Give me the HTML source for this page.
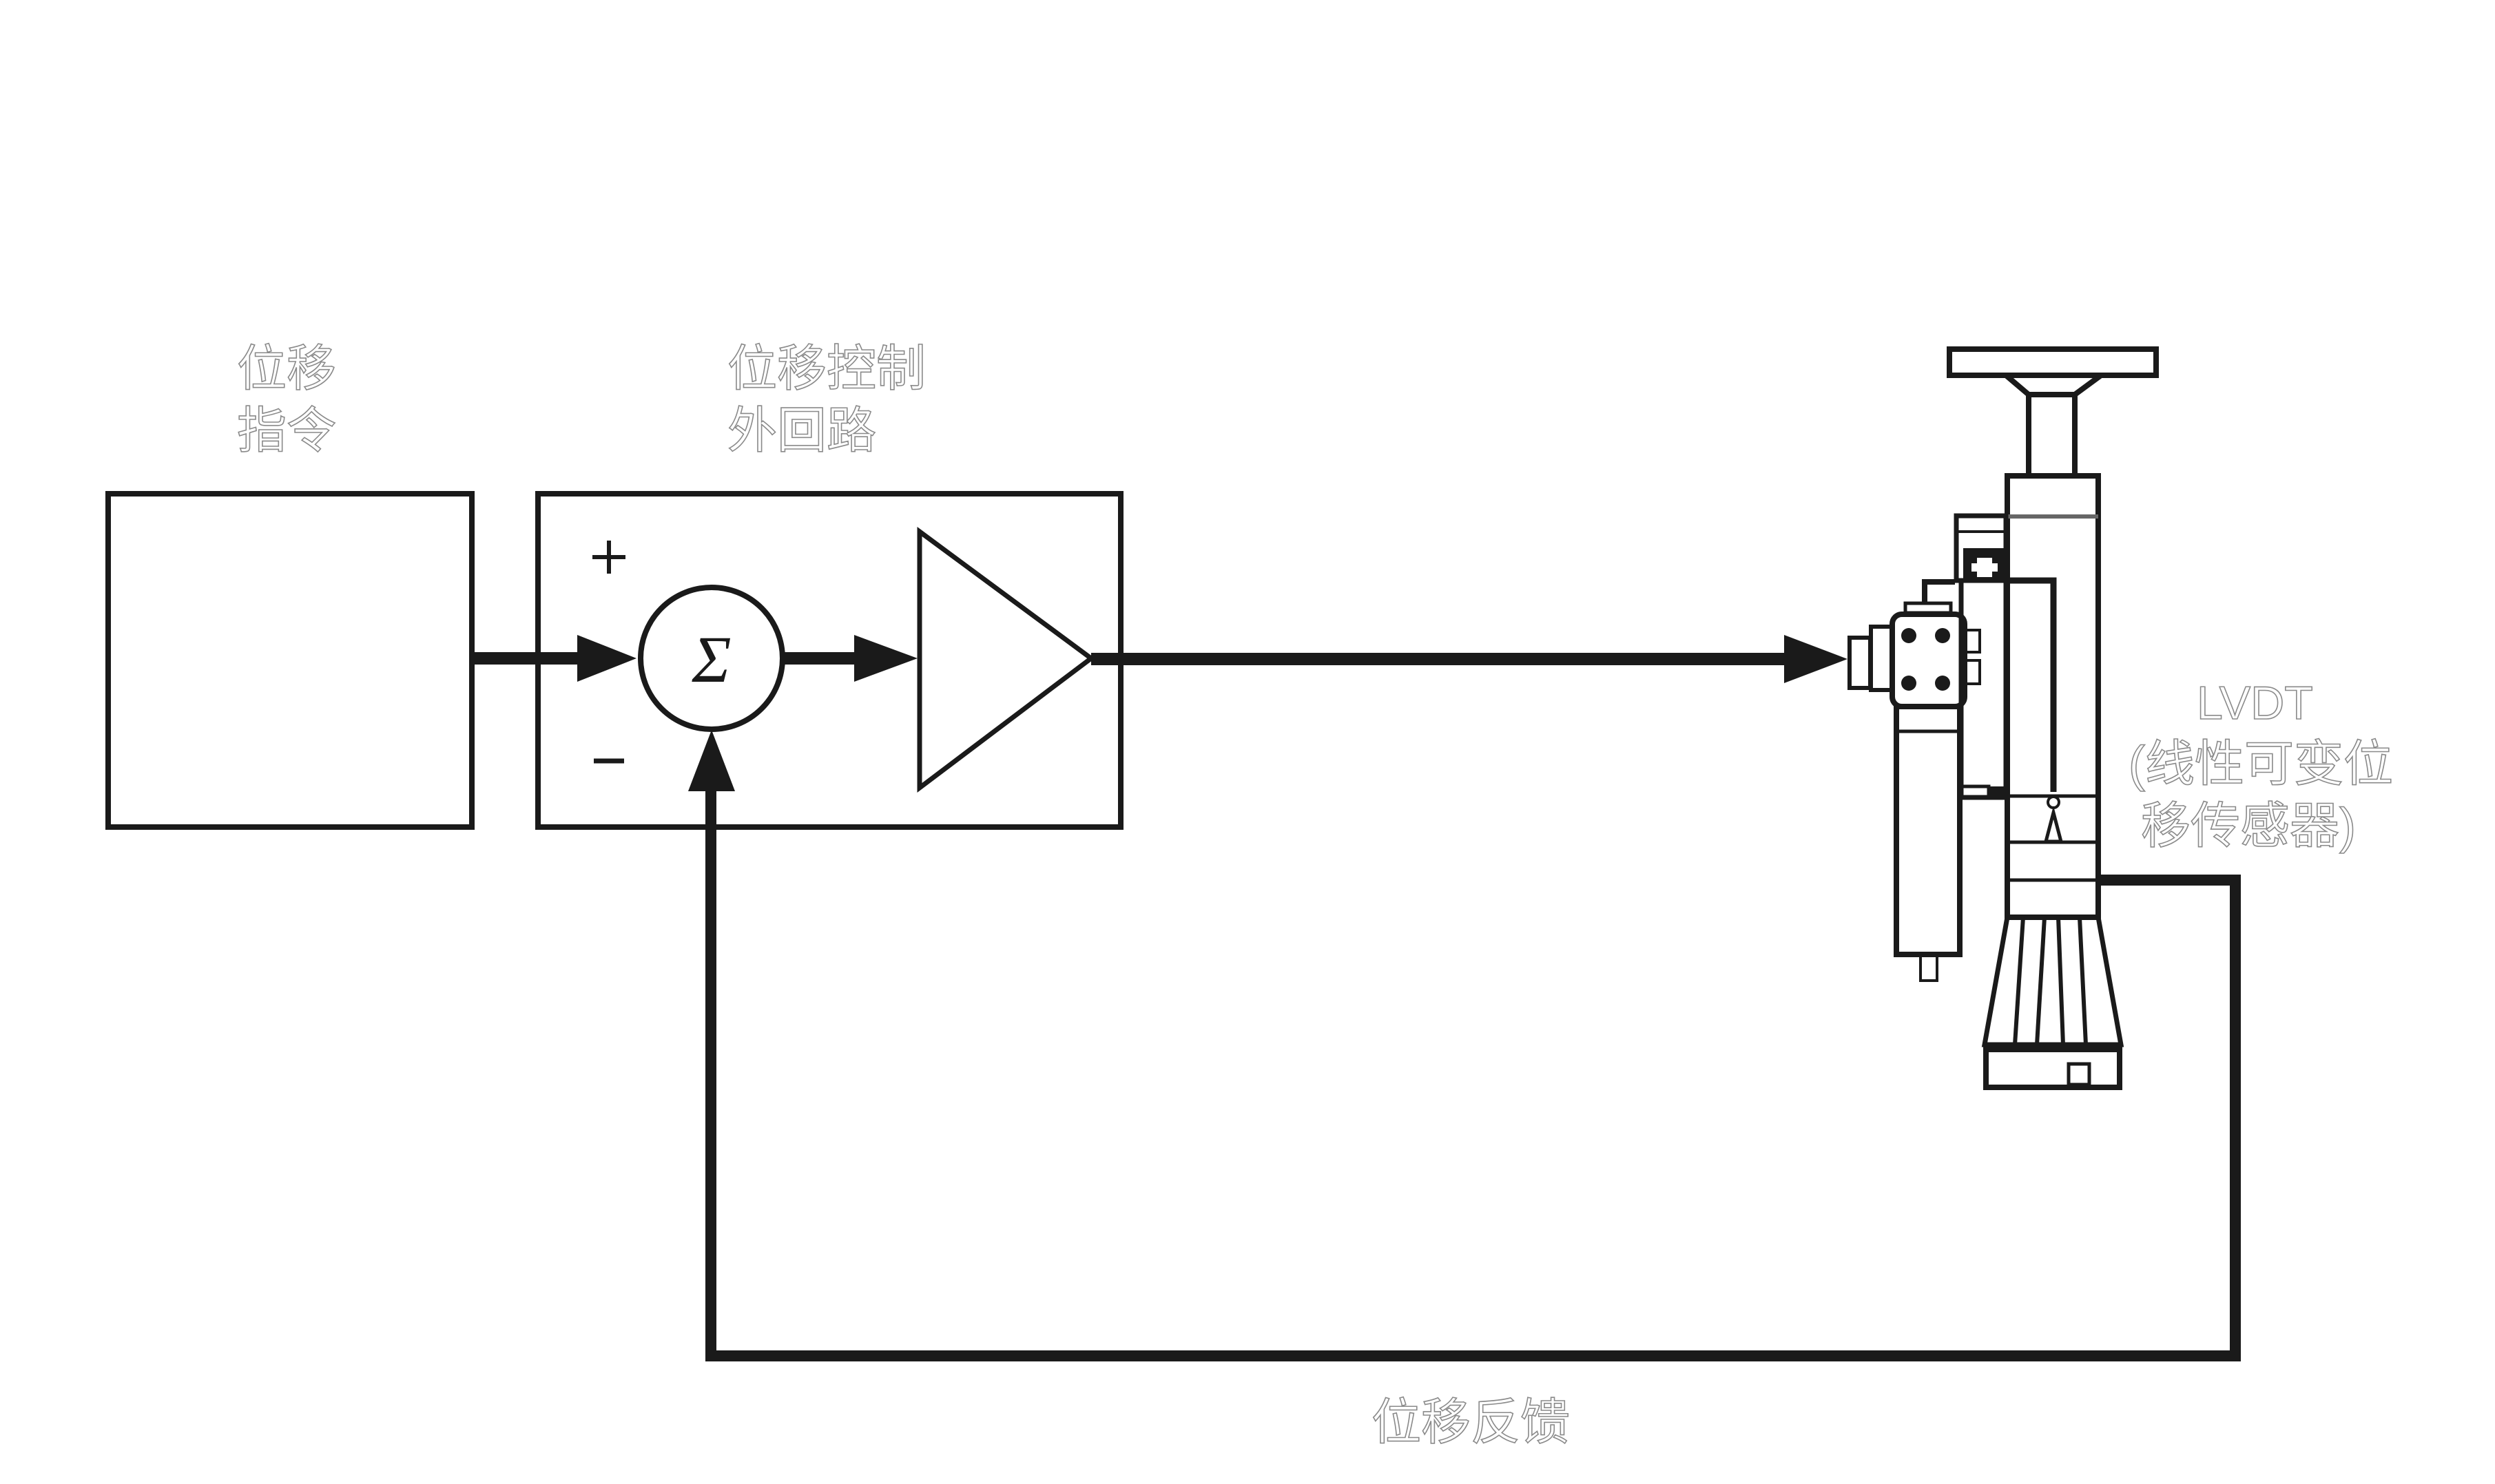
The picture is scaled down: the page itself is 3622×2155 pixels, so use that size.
<!DOCTYPE html>
<html><head><meta charset="utf-8"><style>
html,body{margin:0;padding:0;background:#fff;}
svg{display:block;}
.t{font-family:"Liberation Sans","Noto Sans CJK SC",sans-serif;fill:#fff;stroke:#8a8a8a;stroke-width:1.6;font-size:72px;}
</style></head><body>
<svg width="3622" height="2155" viewBox="0 0 3622 2155" xmlns="http://www.w3.org/2000/svg">
<rect width="3622" height="2155" fill="#fff"/>
<!-- labels -->
<text class="t" x="344" y="560">位移</text>
<text class="t" x="344" y="650">指令</text>
<text class="t" x="1056" y="560">位移控制</text>
<text class="t" x="1056" y="650">外回路</text>
<text class="t" x="3189" y="1044" style="font-size:68px">LVDT</text>
<text class="t" x="3090" y="1134" style="font-size:72px">(线性可变位</text>
<text class="t" x="3108" y="1224" style="font-size:72px">移传感器)</text>
<text class="t" x="1991" y="2090">位移反馈</text>

<g fill="none" stroke="#1a1a1a">
<!-- box1 -->
<rect x="157" y="717" width="528" height="484" stroke-width="8"/>
<!-- box2 -->
<rect x="781" y="717" width="846" height="484" stroke-width="8"/>
<!-- sum circle -->
<circle cx="1033" cy="956" r="103" stroke-width="8"/>
<!-- triangle -->
<polygon points="1335,772 1584,956 1335,1144" stroke-width="7"/>
<!-- lines -->
<line x1="685" y1="956" x2="850" y2="956" stroke-width="18"/>
<line x1="1137" y1="956" x2="1245" y2="956" stroke-width="18"/>
<line x1="1584" y1="957" x2="2600" y2="957" stroke-width="18"/>
<!-- feedback -->
<polyline points="3046,1278 3245,1278 3245,1969 1032,1969 1032,1140" stroke-width="16" stroke-linejoin="miter"/>
<!-- plus minus -->
<line x1="884" y1="785" x2="884" y2="833" stroke-width="6"/>
<line x1="860" y1="809" x2="908" y2="809" stroke-width="6"/>
<line x1="862" y1="1105" x2="906" y2="1105" stroke-width="7"/>
</g>
<g fill="#1a1a1a">
<polygon points="838,922 924,956 838,990"/>
<polygon points="1240,922 1332,956 1240,990"/>
<polygon points="2590,922 2682,957 2590,992"/>
<polygon points="999,1149 1033,1060 1067,1149"/>
</g>
<text x="1033" y="990" text-anchor="middle" style="font-family:'Liberation Serif',serif;font-size:96px;font-style:italic" fill="#1a1a1a">Σ</text>

<!-- actuator -->
<g fill="none" stroke="#1a1a1a" stroke-width="8">
<rect x="2830" y="507" width="300" height="38"/>
<polyline points="2912,545 2945,573 3012,573 3050,545"/>
<rect x="2945" y="573" width="67" height="118"/>
<rect x="2914" y="691" width="132" height="641"/>
<line x1="2914" y1="750" x2="3046" y2="750" stroke="#666" stroke-width="6"/>
<line x1="2914" y1="1156" x2="3046" y2="1156" stroke-width="5"/>
<line x1="2914" y1="1223" x2="3046" y2="1223" stroke-width="5"/>
<line x1="2914" y1="1278" x2="3046" y2="1278" stroke-width="5"/>
<rect x="2840" y="749" width="72" height="94" stroke-width="7"/>
<line x1="2840" y1="772" x2="2912" y2="772" stroke-width="4"/>
<polyline points="2914,843 2981,843 2981,1150" stroke-width="9"/>
<circle cx="2981" cy="1165" r="8" stroke-width="4"/>
<polygon points="2981,1180 2970,1222 2992,1222" stroke-width="5"/>
<rect x="2847" y="843" width="65" height="315" stroke-width="7"/>
<rect x="2847" y="1142" width="40" height="16" stroke-width="5"/>
<polyline points="2794,876 2794,845 2838,845" stroke-width="8"/>
<rect x="2766" y="876" width="66" height="14" stroke-width="5"/>
<rect x="2747" y="892" width="105" height="134" rx="14" stroke-width="8"/>
<rect x="2716" y="910" width="30" height="92" stroke-width="6"/>
<rect x="2685" y="926" width="30" height="73" stroke-width="6"/>
<rect x="2854" y="915" width="20" height="32" stroke-width="4"/>
<rect x="2854" y="959" width="20" height="34" stroke-width="4"/>
<rect x="2753" y="1026" width="92" height="360" stroke-width="8"/>
<line x1="2753" y1="1062" x2="2845" y2="1062" stroke-width="5"/>
<rect x="2788" y="1388" width="24" height="36" stroke-width="4"/>
<polygon points="2914,1332 3046,1332 3079,1517 2881,1517" stroke-width="7"/>
<line x1="2937" y1="1332" x2="2925" y2="1517" stroke-width="6"/>
<line x1="2968" y1="1332" x2="2957" y2="1517" stroke-width="6"/>
<line x1="2988" y1="1332" x2="2995" y2="1517" stroke-width="6"/>
<line x1="3019" y1="1332" x2="3028" y2="1517" stroke-width="6"/>
<rect x="2883" y="1521" width="194" height="58" stroke-width="8"/>
<line x1="2883" y1="1522" x2="3077" y2="1522" stroke-width="12"/>
<rect x="3003" y="1545" width="30" height="30" stroke-width="5"/>
</g>
<g fill="#1a1a1a">
<rect x="2850" y="796" width="62" height="47"/>
<path d="M2870,810h22v8h8v12h-8v8h-22v-8h-8v-12h8z" fill="#fff"/>
<circle cx="2771" cy="923" r="11"/><circle cx="2820" cy="923" r="11"/>
<circle cx="2771" cy="992" r="11"/><circle cx="2820" cy="992" r="11"/>
<rect x="2887" y="1142" width="25" height="18"/>
</g>
</svg>
</body></html>
